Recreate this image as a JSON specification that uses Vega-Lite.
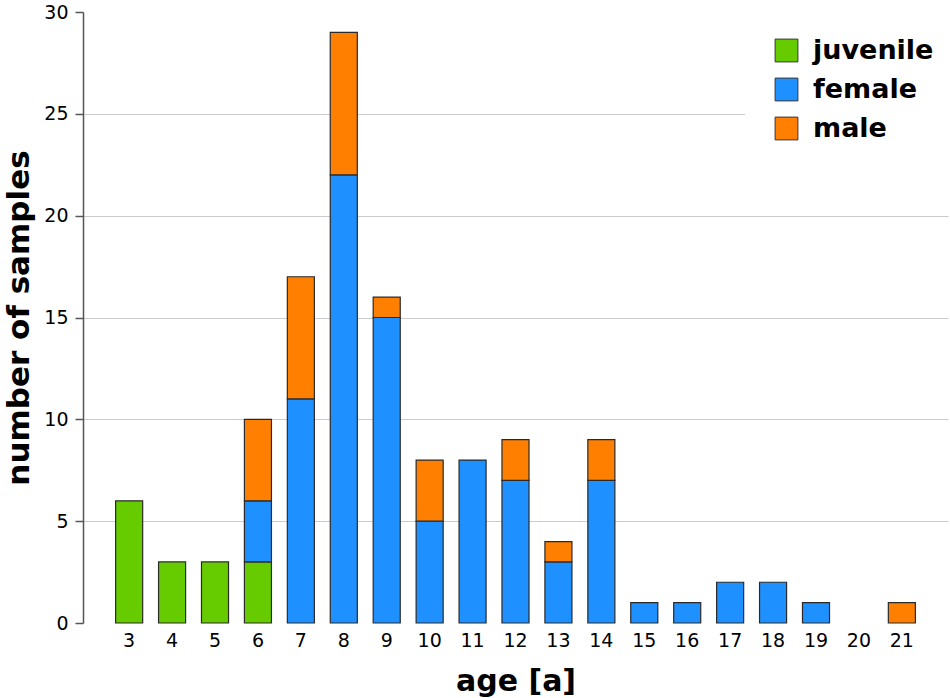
{
  "$schema": "https://vega.github.io/schema/vega-lite/v6.json",
  "width": 865,
  "height": 611,
  "autosize": {"type": "none"},
  "padding": {"left": 83, "top": 12, "right": 2, "bottom": 75},
  "background": "white",
  "config": {
    "font": "DejaVu Sans",
    "view": {"stroke": null}
  },
  "data": {
    "values": [
      {"age": 3, "group": "juvenile", "n": 6},
      {"age": 4, "group": "juvenile", "n": 3},
      {"age": 5, "group": "juvenile", "n": 3},
      {"age": 6, "group": "juvenile", "n": 3},
      {"age": 6, "group": "female", "n": 3},
      {"age": 6, "group": "male", "n": 4},
      {"age": 7, "group": "female", "n": 11},
      {"age": 7, "group": "male", "n": 6},
      {"age": 8, "group": "female", "n": 22},
      {"age": 8, "group": "male", "n": 7},
      {"age": 9, "group": "female", "n": 15},
      {"age": 9, "group": "male", "n": 1},
      {"age": 10, "group": "female", "n": 5},
      {"age": 10, "group": "male", "n": 3},
      {"age": 11, "group": "female", "n": 8},
      {"age": 12, "group": "female", "n": 7},
      {"age": 12, "group": "male", "n": 2},
      {"age": 13, "group": "female", "n": 3},
      {"age": 13, "group": "male", "n": 1},
      {"age": 14, "group": "female", "n": 7},
      {"age": 14, "group": "male", "n": 2},
      {"age": 15, "group": "female", "n": 1},
      {"age": 16, "group": "female", "n": 1},
      {"age": 17, "group": "female", "n": 2},
      {"age": 18, "group": "female", "n": 2},
      {"age": 19, "group": "female", "n": 1},
      {"age": 21, "group": "male", "n": 1}
    ]
  },
  "transform": [
    {"calculate": "indexof(['juvenile', 'female', 'male'], datum.group)", "as": "stack_order"}
  ],
  "mark": {"type": "bar", "stroke": "#2a2a2a", "strokeWidth": 1.2},
  "encoding": {
    "x": {
      "field": "age",
      "type": "ordinal",
      "title": "age [a]",
      "scale": {
        "domain": [3, 4, 5, 6, 7, 8, 9, 10, 11, 12, 13, 14, 15, 16, 17, 18, 19, 20, 21],
        "paddingInner": 0.37,
        "paddingOuter": 0.76
      },
      "axis": {
        "domain": false,
        "ticks": false,
        "labelAngle": 0,
        "labelFontSize": 19,
        "labelColor": "black",
        "labelPadding": 8,
        "titleFontSize": 30,
        "titleFontWeight": "bold",
        "titleColor": "black",
        "titlePadding": 16
      }
    },
    "y": {
      "field": "n",
      "type": "quantitative",
      "aggregate": "sum",
      "title": "number of samples",
      "scale": {"domain": [0, 30], "nice": false},
      "axis": {
        "values": [0, 5, 10, 15, 20, 25, 30],
        "domainColor": "#555555",
        "domainWidth": 1.5,
        "tickColor": "#555555",
        "tickWidth": 1.5,
        "tickSize": 8,
        "labelFontSize": 19,
        "labelColor": "black",
        "labelPadding": 7,
        "gridColor": "#cccccc",
        "gridWidth": 1.2,
        "gridOpacity": {"condition": {"test": "datum.value > 0 && datum.value < 30", "value": 1}, "value": 0},
        "titleFontSize": 31,
        "titleFontWeight": "bold",
        "titleColor": "black",
        "titlePadding": 8
      }
    },
    "color": {
      "field": "group",
      "type": "nominal",
      "scale": {
        "domain": ["juvenile", "female", "male"],
        "range": ["#66cc00", "#1e90ff", "#ff7f00"]
      },
      "legend": {
        "title": null,
        "orient": "none",
        "legendX": 662,
        "legendY": -3,
        "padding": 28,
        "fillColor": "white",
        "symbolType": "square",
        "symbolSize": 520,
        "symbolStrokeColor": "#333333",
        "symbolStrokeWidth": 1,
        "symbolOpacity": 1,
        "labelFontSize": 27,
        "labelFontWeight": "bold",
        "labelColor": "black",
        "labelOffset": 13,
        "rowPadding": 11
      }
    },
    "order": {"field": "stack_order", "sort": "ascending"}
  }
}
